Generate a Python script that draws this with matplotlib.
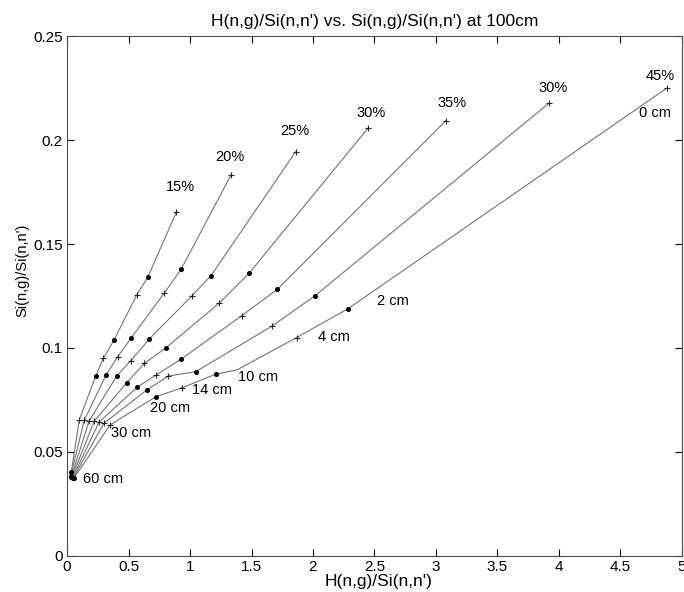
import matplotlib
matplotlib.use("Agg")
import matplotlib.pyplot as plt
from matplotlib.ticker import FuncFormatter

plt.rcParams["font.family"] = ["Liberation Sans", "DejaVu Sans"]
plt.rcParams["font.size"] = 10

# depth (cm) of each point along a curve; 6 cm is an unmarked vertex
line_depths = [0, 2, 4, 10, 14, 20, 30, 60]
lowest_depths = [0, 2, 4, 6, 10, 14, 20, 30, 60]

h_ratio = [
    [0.89, 0.656, 0.567, 0.382, 0.295, 0.233, 0.10, 0.035],
    [1.333, 0.927, 0.789, 0.52, 0.412, 0.317, 0.14, 0.03],
    [1.859, 1.171, 1.014, 0.667, 0.518, 0.404, 0.18, 0.035],
    [2.45, 1.48, 1.236, 0.805, 0.629, 0.486, 0.22, 0.04],
    [3.08, 1.71, 1.42, 0.927, 0.724, 0.567, 0.26, 0.045],
    [3.92, 2.016, 1.669, 1.046, 0.824, 0.648, 0.30, 0.05],
    [4.88, 2.285, 1.867, 1.38, 1.209, 0.932, 0.724, 0.35, 0.055],
]
si_ratio = [
    [0.1655, 0.134, 0.1255, 0.1038, 0.095, 0.0865, 0.0655, 0.0405],
    [0.1832, 0.1378, 0.1263, 0.1047, 0.0958, 0.087, 0.0652, 0.0385],
    [0.1944, 0.1348, 0.125, 0.1042, 0.0939, 0.0865, 0.0650, 0.038],
    [0.2059, 0.1359, 0.1215, 0.1001, 0.0926, 0.0833, 0.0647, 0.0378],
    [0.2093, 0.1282, 0.1155, 0.0946, 0.087, 0.081, 0.0643, 0.0376],
    [0.2178, 0.1251, 0.1106, 0.0886, 0.0865, 0.0798, 0.0638, 0.0375],
    [0.2251, 0.1189, 0.105, 0.0894, 0.0874, 0.0808, 0.0766, 0.0630, 0.0373],
]
pct_labels = ["15%", "20%", "25%", "30%", "35%", "30%", "45%"]
pct_pos = [(0.919, 0.1775), (1.325, 0.192), (1.854, 0.2043), (2.469, 0.2128),
           (3.13, 0.2176), (3.954, 0.2249), (4.82, 0.2308)]
depth_labels = ["0 cm", "2 cm", "4 cm", "10 cm", "14 cm", "20 cm", "30 cm", "60 cm"]
depth_pos = [(4.78, 0.2128), (2.653, 0.1226), (2.17, 0.1052), (1.555, 0.0859),
             (1.176, 0.0798), (0.837, 0.0713), (0.518, 0.0589), (0.295, 0.0369)]

marker_for_depth = {0: "+", 2: ".", 4: "+", 10: ".", 14: "+", 20: ".", 30: "+", 60: "."}

fig = plt.figure(figsize=(6.84, 5.92), dpi=100)
ax = fig.add_axes([0.098, 0.061, 0.899, 0.878])

for xs, ys in zip(h_ratio, si_ratio):
    depths = lowest_depths if len(xs) == len(lowest_depths) else line_depths
    ax.plot(xs, ys, color="0.45", linewidth=0.8, zorder=2)
    plus_x = [x for x, d in zip(xs, depths) if marker_for_depth.get(d) == "+"]
    plus_y = [y for y, d in zip(ys, depths) if marker_for_depth.get(d) == "+"]
    dot_x = [x for x, d in zip(xs, depths) if marker_for_depth.get(d) == "."]
    dot_y = [y for y, d in zip(ys, depths) if marker_for_depth.get(d) == "."]
    ax.plot(plus_x, plus_y, linestyle="none", marker="+", markersize=5,
            markeredgewidth=0.8, color="0.15", zorder=3)
    ax.plot(dot_x, dot_y, linestyle="none", marker="o", markersize=2.6,
            color="black", zorder=3)

for text, (x, y) in zip(pct_labels, pct_pos):
    ax.text(x, y, text, ha="center", va="center", fontsize=10.5)
for text, (x, y) in zip(depth_labels, depth_pos):
    ax.text(x, y, text, ha="center", va="center", fontsize=10.5)

ax.set_xlim(0, 5)
ax.set_ylim(0, 0.25)
ax.set_xticks([0, 0.5, 1, 1.5, 2, 2.5, 3, 3.5, 4, 4.5, 5])
ax.set_yticks([0, 0.05, 0.1, 0.15, 0.2, 0.25])
ax.xaxis.set_major_formatter(FuncFormatter(lambda v, p: f"{v:g}"))
ax.yaxis.set_major_formatter(FuncFormatter(lambda v, p: f"{v:g}"))
ax.tick_params(direction="in", top=True, right=True, length=5, width=0.8,
               labelsize=11, pad=3)
for s in ax.spines.values():
    s.set_linewidth(0.8)
    s.set_color("0.3")

ax.set_title("H(n,g)/Si(n,n') vs. Si(n,g)/Si(n,n') at 100cm", fontsize=12.5, pad=7)
ax.set_xlabel("H(n,g)/Si(n,n')", fontsize=12.5)
ax.xaxis.set_label_coords(0.506, -0.034)
ax.set_ylabel("Si(n,g)/Si(n,n')", fontsize=10.5)
ax.yaxis.set_label_coords(-0.062, 0.55)

fig.savefig("out.png", dpi=100)
